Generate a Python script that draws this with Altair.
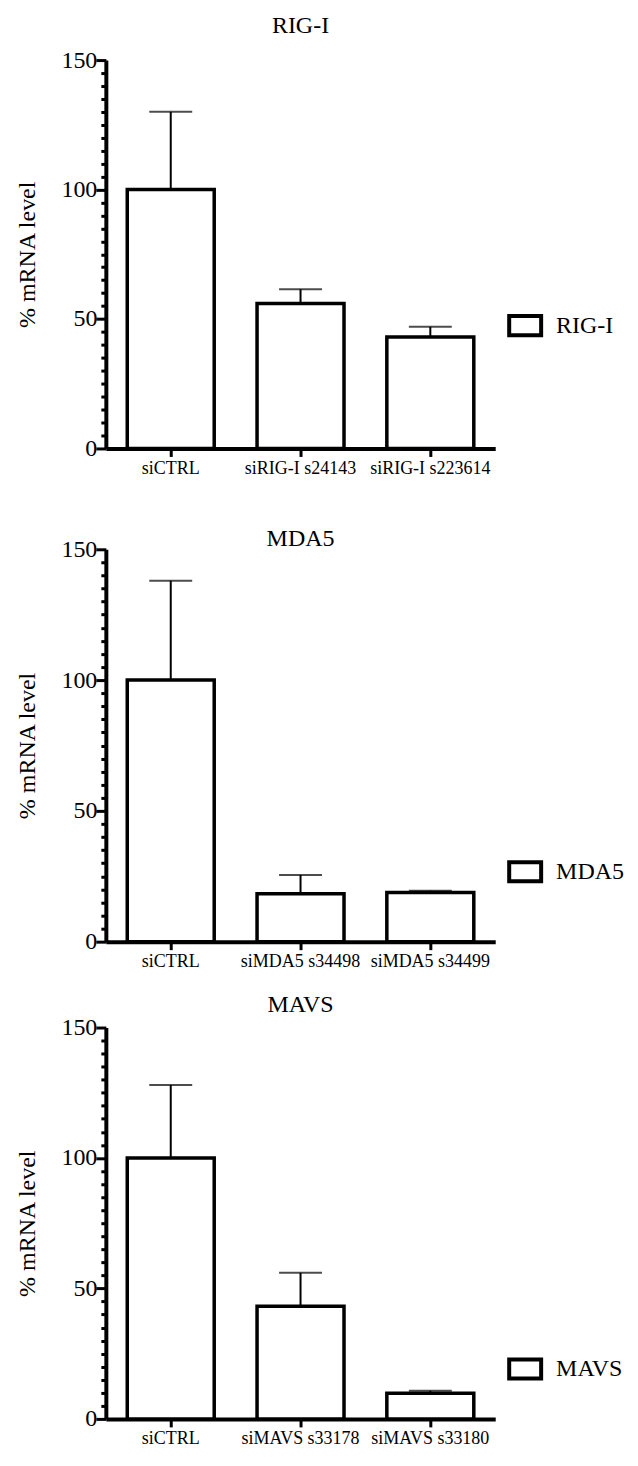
import altair as alt
import pandas as pd

SERIF = "Liberation Serif"

genes = ["RIG-I", "MDA5", "MAVS"]

cats_rig = ["siCTRL", "siRIG-I s24143", "siRIG-I s223614"]
vals_rig = [100, 56, 43]
errs_rig = [30, 5.5, 4]

cats_mda = ["siCTRL", "siMDA5 s34498", "siMDA5 s34499"]
vals_mda = [100, 18.3, 18.8]
errs_mda = [38, 7.2, 0.7]

cats_mavs = ["siCTRL", "siMAVS s33178", "siMAVS s33180"]
vals_mavs = [100, 43.2, 9.8]
errs_mavs = [28, 12.8, 1.0]

y_ticks = list(range(0, 151, 5))


def panel(gene, cats, vals, errs, plot_h, title_offset, legend_y):
    df = pd.DataFrame({
        "cat": cats,
        "val": vals,
        "top": [v + e for v, e in zip(vals, errs)],
        "gene": [gene] * len(cats),
    })
    x_axis = alt.Axis(
        labelAngle=0, labelFont=SERIF, labelFontSize=18, labelColor="black",
        domainColor="black", domainWidth=4, tickColor="black", tickWidth=3,
        tickSize=8, labelPadding=3,
    )
    x_scale = alt.Scale(paddingInner=0.33, paddingOuter=0.165)
    y_axis = alt.Axis(
        values=y_ticks,
        labelExpr="datum.value % 50 === 0 ? datum.label : ''",
        tickSize={"condition": {"test": "datum.value % 50 === 0", "value": 10}, "value": 5},
        tickWidth=3, tickColor="black", domainColor="black", domainWidth=4,
        labelFont=SERIF, labelFontSize=24, labelColor="black", labelPadding=-1,
        titleFont=SERIF, titleFontSize=24, titleFontWeight="normal",
        titleColor="black", titlePadding=21, grid=False,
    )
    y_scale = alt.Scale(domain=[0, 150], nice=False)
    X = alt.X("cat:N", sort=cats, title=None, scale=x_scale, axis=x_axis)

    bars = alt.Chart(df).mark_bar(stroke="black", strokeWidth=3.5).encode(
        x=X,
        y=alt.Y("val:Q", scale=y_scale, axis=y_axis, title="% mRNA level"),
        color=alt.Color(
            "gene:N",
            scale=alt.Scale(range=["white"]),
            legend=alt.Legend(
                orient="none", legendX=402, legendY=legend_y, title=None,
                symbolType="M-1,-0.6H1V0.6H-1Z", symbolSize=1024,
                symbolStrokeWidth=4, symbolStrokeColor="black",
                symbolFillColor="white", labelFont=SERIF, labelFontSize=24,
                labelColor="black", labelOffset=13, padding=0,
            ),
        ),
    )
    rule = alt.Chart(df).mark_rule(color="black", strokeWidth=2).encode(
        x=X,
        y=alt.Y("val:Q", scale=y_scale, axis=y_axis, title="% mRNA level"),
        y2="top:Q",
    )
    cap = alt.Chart(df).mark_tick(color="black", thickness=2, size=43).encode(
        x=X,
        y=alt.Y("top:Q", scale=y_scale, axis=y_axis, title="% mRNA level"),
    )
    return alt.layer(bars, rule, cap).properties(
        width=390, height=plot_h,
        title=alt.TitleParams(
            text=gene, font=SERIF, fontSize=24, fontWeight="normal",
            color="black", anchor="middle", offset=title_offset,
        ),
    )


def spacer(h):
    return alt.Chart(pd.DataFrame({"a": [0]})).mark_point(opacity=0).encode(
        x=alt.value(0), y=alt.value(0)
    ).properties(width=390, height=h)


p1 = panel(genes[0], cats_rig, vals_rig, errs_rig, 389, 10, 248)
p2 = panel(genes[1], cats_mda, vals_mda, errs_mda, 393, -14, 305)
p3 = panel(genes[2], cats_mavs, vals_mavs, errs_mavs, 392, -1, 324)

chart = alt.vconcat(
    p1, spacer(101), p2, spacer(86), p3, spacing=0, bounds="flush"
).resolve_scale(
    x="independent", y="independent", color="independent"
).properties(
    padding={"left": 8, "top": 5, "right": 5, "bottom": 5},
    background="white",
).configure_view(stroke=None)

chart.save("out.html", embed_options={"renderer": "svg", "actions": False})
